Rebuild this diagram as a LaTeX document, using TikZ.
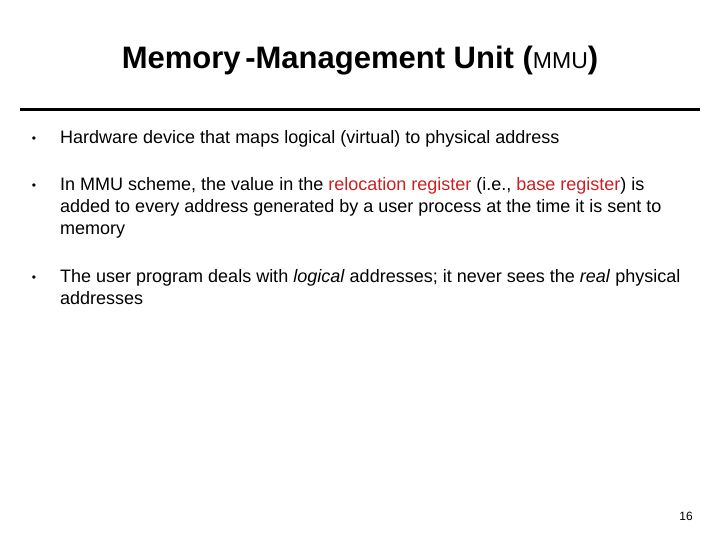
\documentclass[tikz,border=0pt]{standalone}
\usepackage{fontspec}
\setmainfont{Liberation Sans}
\definecolor{hl}{RGB}{204,32,32}
\begin{document}
\begin{tikzpicture}[x=1pt,y=-1pt,
  txt/.style={anchor=base west,inner sep=0pt,font=\fontsize{18}{22}\selectfont},
  bul/.style={anchor=base,inner sep=0pt,font=\fontsize{12}{14}\selectfont}]
\useasboundingbox (0,0) rectangle (720,540);
\node[anchor=base,inner sep=0pt,font=\fontsize{31}{34}\selectfont\bfseries] (title) at (360,69) {Memory\hspace{0.15em}-Management Unit ({\fontsize{23}{24}\selectfont\mdseries MMU})};
\draw[line width=3pt] (20,110) coordinate (l1) -- (700,110) coordinate (l2);
\node[bul] (b1) at (34,143) {•};
\node[txt] (t1) at (60,144) {Hardware device that maps logical (virtual) to physical address};
\node[bul] (b2) at (34,190) {•};
\node[txt] (t2a) at (60,191) {In MMU scheme, the value in the {\color{hl}relocation register} (i.e., {\color{hl}base register}) is};
\node[txt] (t2b) at (60,213) {added to every address generated by a user process at the time it is sent to};
\node[txt] (t2c) at (60,235) {memory};
\node[bul] (b3) at (34,281) {•};
\node[txt] (t3a) at (60,282) {The user program deals with \textit{logical} addresses; it never sees the \textit{real} physical};
\node[txt] (t3b) at (60,304) {addresses};
\node[anchor=base,inner sep=0pt,font=\fontsize{12}{14}\selectfont] (pg) at (686,520) {16};
\end{tikzpicture}
\end{document}
